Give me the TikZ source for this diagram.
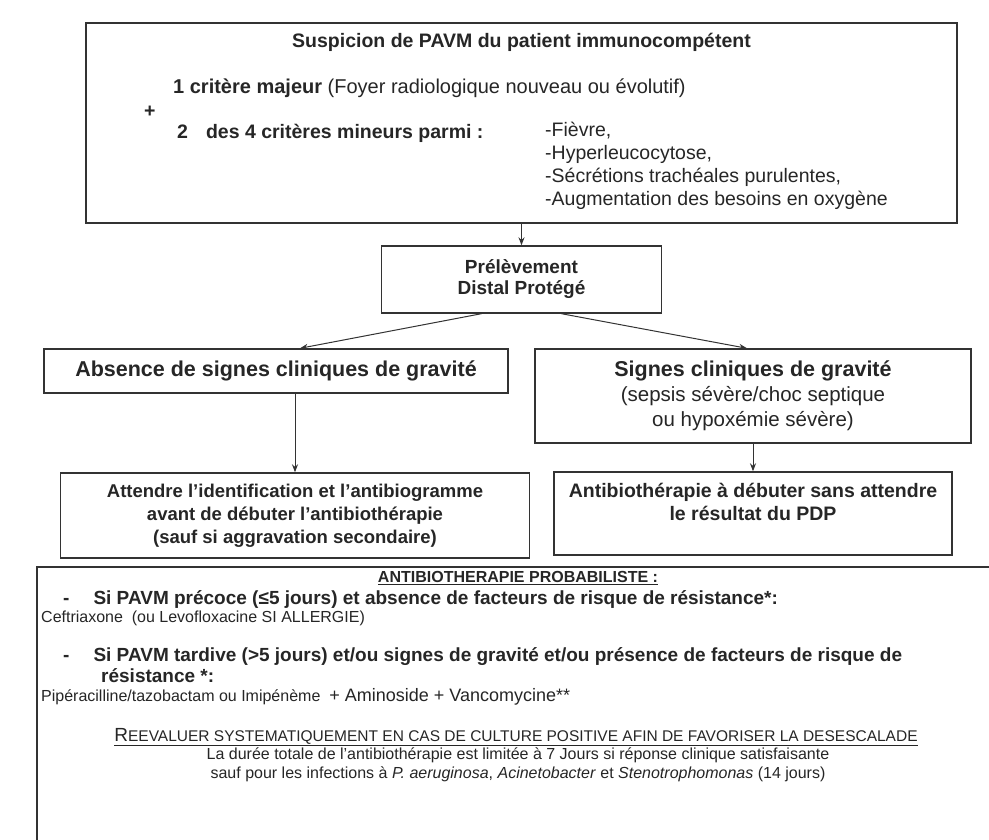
\documentclass[tikz,border=0pt]{standalone}
\usepackage{fontspec}
\setmainfont{Liberation Sans}
\usetikzlibrary{arrows.meta}
\tikzset{
    flow-box/.style = {draw=black!80, line width=1.4pt, fill=white, rectangle, align=center, inner sep=0pt, text=black!85},
    flow-arrow/.style = {draw=black!80, line width=1pt, -{Stealth[length=8pt, width=6pt]}},
    flow-text/.style = {anchor=west, inner sep=0pt, text=black!85, font=\fontsize{19.5}{23}\selectfont},
    flow-bold/.style = {flow-text, font=\bfseries\fontsize{19.5}{23}\selectfont},
    abx-text/.style = {anchor=west, inner sep=0pt, text=black!85, font=\fontsize{16}{19}\selectfont},
    abx-bold/.style = {abx-text, font=\bfseries\fontsize{19}{21}\selectfont},
}

\begin{document}
\begin{tikzpicture}[x=1pt, y=-1pt]
\useasboundingbox (0,0) rectangle (989,840);
\clip (0,0) rectangle (989,840);

\node [flow-box, minimum width=871pt, minimum height=200pt] (suspicion) at (521.5,123) {};
\node [flow-bold, anchor=center] (titre) at (521.5,42) {Suspicion de PAVM du patient immunocompétent};
\node [flow-text, font=\fontsize{20}{23}\selectfont] (majeur) at (173,88) {{\bfseries 1 critère majeur} (Foyer radiologique nouveau ou évolutif)};
\node [flow-bold] (plus) at (144,112) {+};
\node [flow-bold] (mineurs) at (177,133) {2\hspace{18pt}des 4 critères mineurs parmi :};
\node [flow-text, anchor=north west, align=left] (liste) at (545,122) {-Fièvre,\\-Hyperleucocytose,\\-Sécrétions trachéales purulentes,\\-Augmentation des besoins en oxygène};

\node [flow-box, minimum width=280pt, minimum height=67pt, font=\bfseries\fontsize{19}{21}\selectfont] (pdp) at (521.5,279.5) {Prélèvement\\Distal Protégé};

\node [flow-box, minimum width=464pt, minimum height=44pt, font=\bfseries\fontsize{21.5}{25}\selectfont] (absence) at (276,371) {Absence de signes cliniques de gravité};
\node [flow-box, minimum width=436pt, minimum height=94pt, font=\fontsize{20.5}{25}\selectfont] (signes) at (753,396) {{\bfseries\fontsize{21.5}{25}\selectfont Signes cliniques de gravité}\\(sepsis sévère/choc septique\\ou hypoxémie sévère)};

\node [flow-box, minimum width=469pt, minimum height=85pt, font=\bfseries\fontsize{18.5}{23}\selectfont] (attendre) at (295,515.5) {Attendre l'identification et l'antibiogramme\\avant de débuter l'antibiothérapie\\(sauf si aggravation secondaire)};
\node [flow-box, minimum width=398pt, minimum height=83pt, font=\bfseries\fontsize{19.5}{23}\selectfont] (debuter) at (753,513.5) {Antibiothérapie à débuter sans attendre\\le résultat du PDP\\\mbox{}};

\draw [flow-arrow] (suspicion) -- (pdp);
\draw [flow-arrow] ([xshift=-40pt]pdp.south) -- ([xshift=24pt]absence.north);
\draw [flow-arrow] ([xshift=40pt]pdp.south) -- ([xshift=-6pt]signes.north);
\draw [flow-arrow] (attendre.north |- absence.south) -- (attendre.north);
\draw [flow-arrow] (signes) -- (debuter);

\node [flow-box, minimum width=990pt, minimum height=300pt] (probabiliste) at (532,717) {};
\node [abx-bold, anchor=center, font=\bfseries\fontsize{16}{19}\selectfont] (titre-abx) at (518,578) {\underline{ANTIBIOTHERAPIE PROBABILISTE :}};
\node [abx-bold] (precoce) at (63,600) {-\hspace{24pt}Si PAVM précoce (≤5 jours) et absence de facteurs de risque de résistance*:};
\node [abx-text] (ceftriaxone) at (41,618) {Ceftriaxone\ \ (ou Levofloxacine SI ALLERGIE)};
\node [abx-bold] (tardive) at (63,657) {-\hspace{24pt}Si PAVM tardive (>5 jours) et/ou signes de gravité et/ou présence de facteurs de risque de};
\node [abx-bold] (resistance) at (101,676) {résistance *:};
\node [abx-text] (piperacilline) at (41,697) {Pipéracilline/tazobactam ou Imipénème\ \ {\fontsize{18}{21}\selectfont + Aminoside + Vancomycine**}};
\node [abx-text, anchor=center] (reevaluer) at (516,737) {\underline{{\fontsize{19}{23}\selectfont R}{\fontsize{15.5}{23}\selectfont EEVALUER SYSTEMATIQUEMENT EN CAS DE CULTURE POSITIVE AFIN DE FAVORISER LA DESESCALADE}}};
\node [abx-text, anchor=center, align=center] (duree) at (518,765) {La durée totale de l'antibiothérapie est limitée à 7 Jours si réponse clinique satisfaisante\\sauf pour les infections à \textit{P. aeruginosa}, \textit{Acinetobacter} et \textit{Stenotrophomonas} (14 jours)};
\end{tikzpicture}
\end{document}
